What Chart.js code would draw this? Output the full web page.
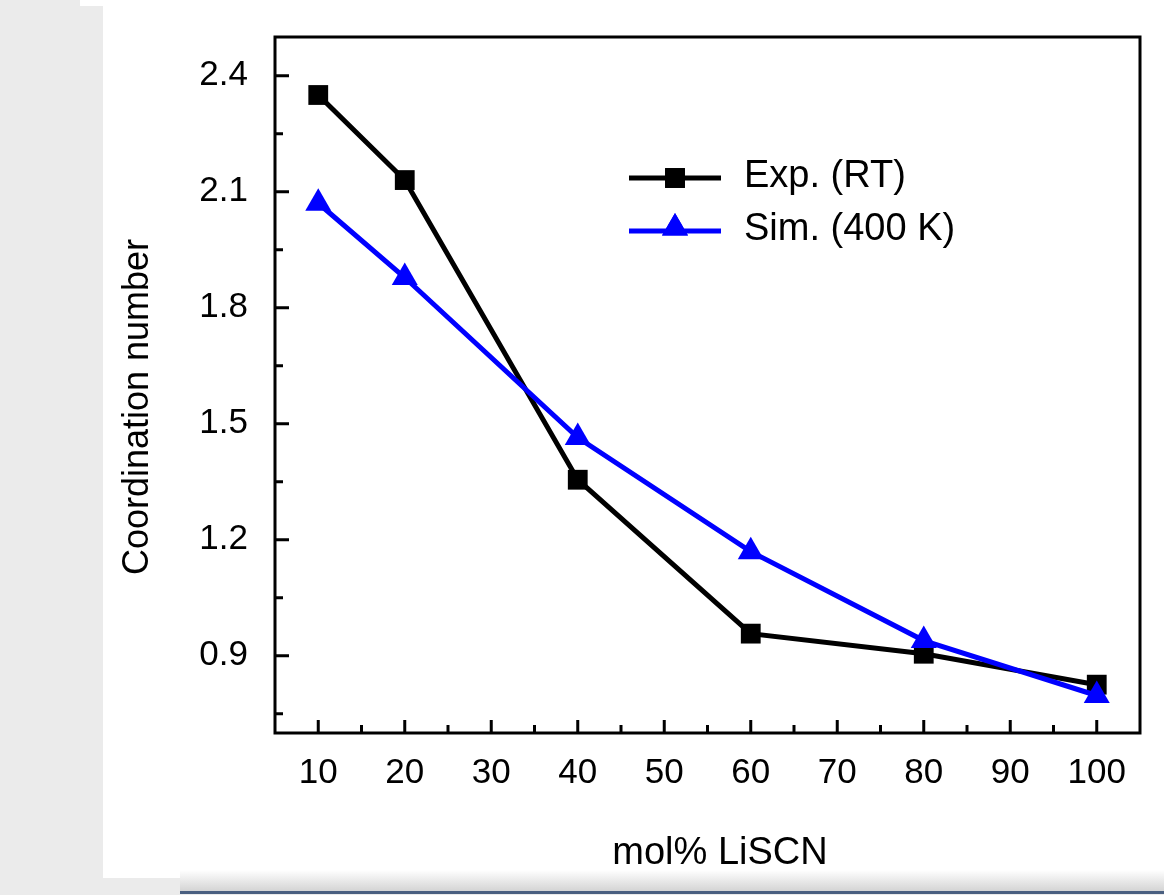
<!DOCTYPE html>
<html>
<head>
<meta charset="utf-8">
<title>Coordination number vs mol% LiSCN</title>
<script src="https://cdn.jsdelivr.net/npm/chart.js@4.4.1/dist/chart.umd.min.js"></script>
<style>
    html, body { margin: 0; padding: 0; background: #ebebeb; }
    #wrap { position: absolute; left: 0; top: 0; width: 1164px; height: 895px; }
</style>
</head>
<body>
<div id="wrap"><canvas id="cn-chart" width="1164" height="895"></canvas></div>
<script>
// 数据
const molPercent = [10, 20, 40, 60, 80, 100];
const expRT = [2.35, 2.13, 1.355, 0.957, 0.905, 0.825];
const sim400K = [2.07, 1.878, 1.464, 1.169, 0.939, 0.797];
const xTicks = [10, 20, 30, 40, 50, 60, 70, 80, 90, 100];
const yTicks = [0.9, 1.2, 1.5, 1.8, 2.1, 2.4];
const seriesNames = ['Exp. (RT)', 'Sim. (400 K)'];
const xTitle = 'mol% LiSCN';
const yTitle = 'Coordination number';

const FONT = '"Liberation Sans", Arial, sans-serif';

function toPoints(xs, ys) {
    return xs.map((x, i) => ({ x: x, y: ys[i] }));
}

// 背景: 左侧灰条 + 白色面板 + 底部条
const backgroundPlugin = {
    id: 'pageBackground',
    beforeDraw(chart) {
        const ctx = chart.ctx;
        ctx.save();
        ctx.fillStyle = '#ebebeb';
        ctx.fillRect(0, 0, chart.width, chart.height);
        ctx.fillStyle = '#ffffff';
        ctx.fillRect(103, 6, chart.width - 103, 872);
        ctx.fillRect(80, 0, chart.width - 80, 6);
        const g = ctx.createLinearGradient(0, 870, 0, 890);
        g.addColorStop(0, '#ffffff');
        g.addColorStop(1, '#d6d6d6');
        ctx.fillStyle = g;
        ctx.fillRect(180, 870, chart.width - 180, 21);
        ctx.fillStyle = '#4a5f80';
        ctx.fillRect(180, 891, chart.width - 180, 3);
        ctx.restore();
    }
};

// 坐标框、内向刻度、轴标题
const frameTicksPlugin = {
    id: 'frameTicks',
    afterDatasetsDraw(chart) {
        const ctx = chart.ctx;
        const a = chart.chartArea;
        const xs = chart.scales.x;
        const ys = chart.scales.y;
        ctx.save();
        ctx.strokeStyle = '#000';
        ctx.lineWidth = 3;
        ctx.strokeRect(a.left, a.top, a.right - a.left, a.bottom - a.top);
        ctx.beginPath();
        for (let v = 5; v <= 105; v += 5) {
            const px = xs.getPixelForValue(v);
            if (px <= a.left + 2 || px >= a.right - 2) continue;
            const len = (v % 10 === 0) ? 13 : 8;
            ctx.moveTo(px, a.bottom);
            ctx.lineTo(px, a.bottom - len);
        }
        for (let i = 0; i <= 12; i++) {
            const v = 0.75 + i * 0.15;
            const py = ys.getPixelForValue(v);
            if (py <= a.top + 2 || py >= a.bottom - 2) continue;
            const len = (i % 2 === 1) ? 14 : 8;
            ctx.moveTo(a.left, py);
            ctx.lineTo(a.left + len, py);
        }
        ctx.stroke();

        ctx.fillStyle = '#000';
        ctx.textAlign = 'center';
        ctx.textBaseline = 'middle';
        // X轴标题
        ctx.font = '38px ' + FONT;
        ctx.fillText(xTitle, 720, 854);
        // Y轴标题
        ctx.translate(138, 407);
        ctx.rotate(-Math.PI / 2);
        ctx.font = '36px ' + FONT;
        ctx.fillText(yTitle, 0, 0);
        ctx.restore();
    }
};

// 图例 (图内)
const insideLegendPlugin = {
    id: 'insideLegend',
    afterDraw(chart) {
        const ctx = chart.ctx;
        ctx.save();
        const rows = [
            { y: 178, color: '#000000', style: 'rect', radius: 14 },
            { y: 231, color: '#0000ff', style: 'triangle', radius: 15 }
        ];
        rows.forEach((r, i) => {
            ctx.strokeStyle = r.color;
            ctx.lineWidth = 5;
            ctx.beginPath();
            ctx.moveTo(629, r.y);
            ctx.lineTo(721, r.y);
            ctx.stroke();
            ctx.fillStyle = r.color;
            Chart.helpers.drawPoint(ctx, { pointStyle: r.style, radius: r.radius, borderWidth: 0 }, 675, r.y - (r.style === 'triangle' ? 3 : 0));
            ctx.fill();
            ctx.fillStyle = '#000';
            ctx.font = '38px ' + FONT;
            ctx.textBaseline = 'middle';
            ctx.textAlign = 'left';
            ctx.fillText(seriesNames[i], 744, r.y - 1);
        });
        ctx.restore();
    }
};

document.addEventListener('DOMContentLoaded', function() {
    const canvas = document.getElementById('cn-chart');
    new Chart(canvas, {
        type: 'line',
        data: {
            datasets: [{
                label: seriesNames[0],
                data: toPoints(molPercent, expRT),
                borderColor: '#000000',
                backgroundColor: '#000000',
                borderWidth: 5,
                pointStyle: 'rect',
                pointRadius: 14,
                pointBorderWidth: 0,
                tension: 0,
                order: 1
            }, {
                label: seriesNames[1],
                data: toPoints(molPercent, sim400K),
                borderColor: '#0000ff',
                backgroundColor: '#0000ff',
                borderWidth: 5,
                pointStyle: 'triangle',
                pointRadius: 15,
                pointBorderWidth: 0,
                tension: 0,
                order: 0
            }]
        },
        options: {
            responsive: false,
            animation: false,
            devicePixelRatio: 1,
            layout: { padding: { top: 37, right: 24, left: 0, bottom: 0 } },
            plugins: {
                legend: { display: false },
                tooltip: { enabled: false }
            },
            scales: {
                x: {
                    type: 'linear',
                    min: 5,
                    max: 105,
                    afterBuildTicks: (s) => { s.ticks = xTicks.map(v => ({ value: v })); },
                    afterFit: (s) => { s.height = 162; s.paddingLeft = 0; s.paddingRight = 0; },
                    grid: { display: false, drawTicks: false },
                    border: { display: false },
                    ticks: {
                        color: '#000',
                        font: { family: FONT, size: 35 },
                        padding: 19,
                        maxRotation: 0
                    },
                    title: { display: false }
                },
                y: {
                    type: 'linear',
                    min: 0.7,
                    max: 2.5,
                    afterBuildTicks: (s) => { s.ticks = yTicks.map(v => ({ value: v })); },
                    afterFit: (s) => { s.width = 275; s.paddingTop = 0; s.paddingBottom = 0; },
                    grid: { display: false, drawTicks: false },
                    border: { display: false },
                    ticks: {
                        color: '#000',
                        font: { family: FONT, size: 35 },
                        padding: 27,
                        callback: (v) => Number(v).toFixed(1)
                    },
                    title: { display: false }
                }
            }
        },
        plugins: [backgroundPlugin, frameTicksPlugin, insideLegendPlugin]
    });
});
</script>
</body>
</html>
